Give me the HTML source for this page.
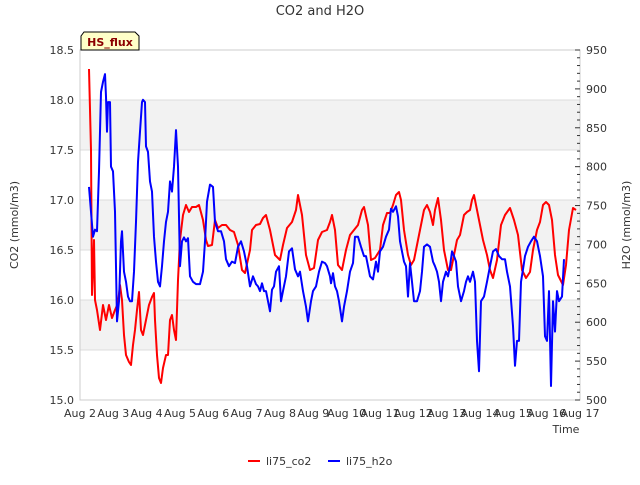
<!DOCTYPE html>
<html><head><meta charset="utf-8"><style>
body{margin:0;background:#fff;font-family:"Liberation Sans",sans-serif;}
svg text{font-family:"DejaVu Sans","Liberation Sans",sans-serif;}
</style></head><body>
<svg id="chart" width="640" height="480">
<g id="bg"></g>
<text x="320" y="15" text-anchor="middle" font-size="13" fill="#333">CO2 and H2O</text>
<g id="axes"></g>
<g id="lines"></g>
<g>
<path d="M84,32 L135,32 L139,36 L139,50 L81,50 L81,36 Z" fill="#ffffc8" stroke="#000" stroke-width="1"/>
<text x="110" y="46" text-anchor="middle" font-size="11" font-weight="bold" fill="#8b0000">HS_flux</text>
</g>
<text x="566" y="433" text-anchor="middle" font-size="11" fill="#333">Time</text>
<text transform="translate(18,225) rotate(-90)" text-anchor="middle" font-size="11" fill="#333">CO2 (mmol/m3)</text>
<text transform="translate(630,225) rotate(-90)" text-anchor="middle" font-size="11" fill="#333">H2O (mmol/m3)</text>
<g>
<g><line x1="248" y1="461" x2="260" y2="461" stroke="#f00" stroke-width="2"/><text x="266" y="465" font-size="11" fill="#333">li75_co2</text></g>
<g><line x1="328" y1="461" x2="340" y2="461" stroke="#00f" stroke-width="2"/><text x="346" y="465" font-size="11" fill="#333">li75_h2o</text></g>
</g>
</svg>
<script>
const xTicks=["Aug 2","Aug 3","Aug 4","Aug 5","Aug 6","Aug 7","Aug 8","Aug 9","Aug 10","Aug 11","Aug 12","Aug 13","Aug 14","Aug 15","Aug 16","Aug 17"];
const leftTicks=[15.0,15.5,16.0,16.5,17.0,17.5,18.0,18.5];
const rightTicks=[500,550,600,650,700,750,800,850,900,950];
const co2T=[.27,.33,.36,.42,.45,.51,.60,.69,.78,.87,.96,1.05,1.14,1.20,1.26,1.32,1.38,1.47,1.53,1.59,1.65,1.71,1.77,1.83,1.89,1.98,2.07,2.16,2.22,2.25,2.31,2.37,2.43,2.49,2.58,2.64,2.70,2.76,2.82,2.88,2.94,3.00,3.09,3.18,3.27,3.36,3.48,3.57,3.69,3.78,3.84,3.96,4.05,4.14,4.26,4.38,4.50,4.62,4.74,4.86,4.95,5.10,5.16,5.28,5.40,5.49,5.58,5.70,5.85,6.00,6.09,6.21,6.36,6.48,6.54,6.66,6.78,6.90,7.02,7.14,7.26,7.41,7.50,7.56,7.65,7.74,7.86,7.98,8.10,8.22,8.34,8.46,8.52,8.64,8.73,8.85,9.00,9.09,9.21,9.30,9.39,9.48,9.57,9.63,9.72,9.84,9.93,10.02,10.14,10.23,10.32,10.41,10.50,10.59,10.65,10.74,10.83,10.92,11.04,11.13,11.22,11.31,11.40,11.52,11.61,11.70,11.76,11.82,11.91,12.00,12.09,12.21,12.30,12.39,12.51,12.63,12.75,12.90,13.02,13.14,13.26,13.38,13.50,13.59,13.71,13.80,13.89,13.98,14.07,14.16,14.25,14.34,14.49,14.58,14.67,14.79,14.88];
const co2V=[18.31,17.50,16.05,16.60,16.00,15.90,15.70,15.95,15.80,15.95,15.82,15.90,15.97,16.15,16.00,15.65,15.45,15.38,15.35,15.55,15.70,15.90,16.08,15.70,15.65,15.80,15.95,16.03,16.07,15.80,15.45,15.22,15.17,15.32,15.45,15.45,15.80,15.85,15.70,15.60,16.20,16.60,16.85,16.95,16.88,16.93,16.93,16.95,16.80,16.60,16.54,16.55,16.80,16.72,16.75,16.75,16.70,16.68,16.55,16.30,16.27,16.50,16.70,16.75,16.76,16.82,16.85,16.70,16.45,16.40,16.55,16.72,16.78,16.90,17.05,16.85,16.45,16.30,16.32,16.60,16.68,16.70,16.78,16.85,16.70,16.35,16.30,16.50,16.65,16.70,16.75,16.90,16.93,16.75,16.40,16.42,16.50,16.75,16.87,16.87,16.95,17.05,17.08,17.00,16.70,16.45,16.35,16.40,16.60,16.75,16.90,16.95,16.88,16.75,16.90,17.02,16.80,16.50,16.30,16.30,16.45,16.60,16.65,16.85,16.88,16.90,17.00,17.05,16.90,16.75,16.60,16.45,16.30,16.22,16.40,16.75,16.85,16.92,16.80,16.65,16.30,16.22,16.28,16.50,16.70,16.78,16.95,16.98,16.95,16.80,16.45,16.25,16.15,16.35,16.70,16.92,16.90];
const h2oT=[.27,.33,.39,.45,.51,.57,.63,.69,.75,.78,.81,.84,.90,.93,.99,1.05,1.11,1.17,1.23,1.26,1.32,1.38,1.44,1.50,1.56,1.62,1.68,1.74,1.80,1.86,1.89,1.95,1.98,2.04,2.10,2.16,2.22,2.28,2.34,2.40,2.46,2.52,2.58,2.64,2.70,2.76,2.82,2.88,2.94,3.00,3.06,3.12,3.18,3.24,3.30,3.39,3.48,3.60,3.69,3.75,3.81,3.90,3.99,4.05,4.14,4.23,4.32,4.38,4.47,4.56,4.65,4.74,4.83,4.92,5.01,5.10,5.19,5.28,5.34,5.40,5.46,5.52,5.58,5.64,5.70,5.76,5.82,5.88,5.97,6.03,6.09,6.18,6.27,6.36,6.45,6.54,6.60,6.69,6.78,6.84,6.93,6.99,7.08,7.17,7.26,7.35,7.41,7.50,7.53,7.59,7.65,7.71,7.77,7.86,7.92,8.01,8.10,8.19,8.25,8.34,8.43,8.52,8.58,8.64,8.70,8.79,8.88,8.94,9.00,9.09,9.18,9.27,9.33,9.39,9.48,9.54,9.60,9.66,9.72,9.78,9.84,9.90,9.96,10.02,10.11,10.20,10.26,10.32,10.41,10.50,10.59,10.65,10.71,10.77,10.83,10.89,10.98,11.04,11.10,11.16,11.22,11.28,11.34,11.43,11.52,11.58,11.64,11.70,11.79,11.85,11.91,11.97,12.03,12.12,12.21,12.30,12.39,12.48,12.57,12.66,12.75,12.81,12.90,12.99,13.05,13.11,13.17,13.23,13.29,13.35,13.44,13.53,13.62,13.71,13.80,13.89,13.95,14.01,14.07,14.13,14.19,14.25,14.31,14.37,14.46,14.52];
const h2oV=[774,742,710,719,717,794,896,909,919,890,845,883,883,800,794,742,601,627,704,717,665,652,633,627,627,665,729,806,845,883,886,883,826,819,781,768,710,678,652,646,672,704,729,742,781,768,800,847,800,672,704,709,704,708,659,652,649,649,665,704,755,777,774,729,717,717,704,681,672,678,676,697,704,691,672,646,659,649,646,640,650,640,640,627,614,642,646,665,672,627,640,659,691,695,668,659,665,640,620,601,627,640,646,665,678,676,672,659,650,663,646,640,627,601,620,640,665,676,710,710,697,685,685,672,659,655,678,665,691,697,710,719,746,742,749,736,704,691,678,672,633,676,652,627,627,640,665,697,700,697,678,672,665,652,627,652,665,659,672,691,685,678,646,627,640,652,659,652,665,652,576,537,627,633,652,672,691,694,685,681,681,665,646,595,544,576,576,652,668,685,697,704,710,704,685,659,582,576,640,518,627,588,640,627,633,681];
const NS="http://www.w3.org/2000/svg";
const L=80,R=580,T=50,B=400;
const xS=d=>L+d*(R-L)/15;
const yL=v=>B-(v-15)*(B-T)/3.5;
const yR=v=>B-(v-500)*(B-T)/450;
function mk(tag,attrs,parent){const e=document.createElementNS(NS,tag);for(const k in attrs)e.setAttribute(k,attrs[k]);parent.appendChild(e);return e;}
const bg=document.getElementById('bg'),ax=document.getElementById('axes'),ln=document.getElementById('lines');
for(let i=0;i<leftTicks.length-1;i++){
  const r=mk('rect',{x:L,y:yL(leftTicks[i+1]),width:R-L,height:yL(leftTicks[i])-yL(leftTicks[i+1]),fill:(i%2==1)?'#f2f2f2':'#fff'},bg);
  
  
}
leftTicks.forEach(v=>{
  const g=mk('line',{x1:L,x2:R,y1:yL(v),y2:yL(v),stroke:'#dcdcdc','stroke-width':1},bg);
  
  
  const t=mk('text',{x:L-6,y:yL(v)+4,'text-anchor':'end','font-size':11,fill:'#333'},ax);
  t.textContent=v.toFixed(1);
  
  
});
const fr=mk('rect',{x:L,y:T,width:R-L,height:B-T,fill:'none',stroke:'#ccc'},ax);


rightTicks.forEach(v=>{
  const t=mk('text',{x:R+6,y:yR(v)+4,'font-size':11,fill:'#333'},ax);
  t.textContent=v;
  
  
});
for(let v=500;v<=950;v+=10){
  const m=mk('line',{x1:(v%50==0)?R-5:R-3,x2:R,y1:yR(v),y2:yR(v),stroke:'#333','stroke-width':1},ax);
  
  
}
xTicks.forEach((s,i)=>{
  const t=mk('text',{x:xS(i),y:B+17,'text-anchor':'middle','font-size':11,fill:'#333'},ax);
  t.textContent=s;
  
  
});
const pc=mk('path',{d:co2T.map((t,i)=>(i?'L':'M')+xS(t).toFixed(1)+','+yL(co2V[i]).toFixed(1)).join(''),fill:'none',stroke:'#f00','stroke-width':2,'stroke-linejoin':'round'},ln);


const ph=mk('path',{d:h2oT.map((t,i)=>(i?'L':'M')+xS(t).toFixed(1)+','+yR(h2oV[i]).toFixed(1)).join(''),fill:'none',stroke:'#00f','stroke-width':2,'stroke-linejoin':'round'},ln);


</script>
</body></html>
